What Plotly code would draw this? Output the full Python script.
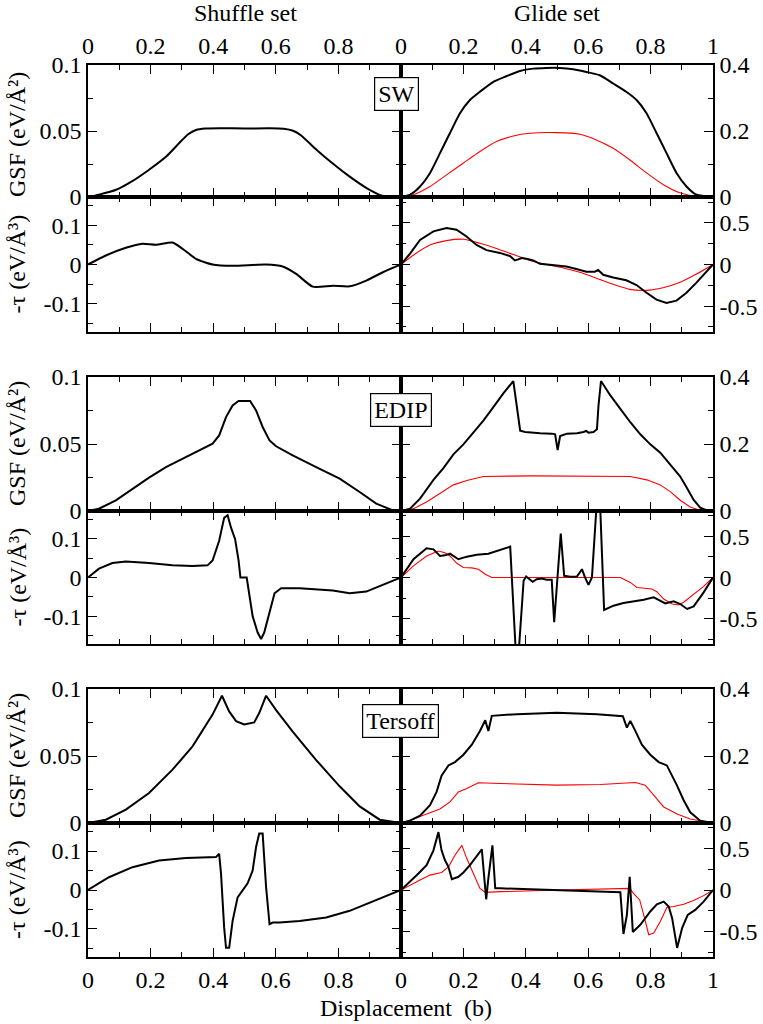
import plotly.graph_objects as go

# ---------------- data ----------------
# Shuffle set (left column)
sw_sh_gsf_x = [0, 0.035, 0.09, 0.14, 0.195, 0.25, 0.29, 0.32, 0.345, 0.375, 0.42, 0.5, 0.58, 0.625, 0.655, 0.68, 0.73, 0.78, 0.835, 0.89, 0.94, 1.0]
sw_sh_gsf_y = [0, 0.0018, 0.0055, 0.0118, 0.0207, 0.0307, 0.0405, 0.0475, 0.0508, 0.0519, 0.0521, 0.0519, 0.0521, 0.0517, 0.0502, 0.0468, 0.0358, 0.0257, 0.0156, 0.0068, 0.001, 0]
sw_sh_tau_x = [0, 0.057, 0.121, 0.174, 0.217, 0.270, 0.302, 0.345, 0.398, 0.462, 0.569, 0.622, 0.665, 0.718, 0.782, 0.836, 0.889, 0.942, 1.0]
sw_sh_tau_y = [0, 0.023, 0.0427, 0.053, 0.0504, 0.056, 0.0402, 0.0145, 0, -0.0034, 0, -0.0051, -0.0239, -0.0564, -0.0539, -0.0556, -0.041, -0.0197, 0]

edip_sh_gsf_x = [0, 0.035, 0.089, 0.142, 0.195, 0.249, 0.302, 0.355, 0.398, 0.419, 0.441, 0.462, 0.481, 0.518, 0.537, 0.558, 0.580, 0.601, 0.654, 0.729, 0.804, 0.868, 0.921, 0.974, 1.0]
edip_sh_gsf_y = [0, 0.0017, 0.0080, 0.0167, 0.0249, 0.0328, 0.0391, 0.0453, 0.0502, 0.0564, 0.0701, 0.0788, 0.0821, 0.0821, 0.0751, 0.0627, 0.0527, 0.0483, 0.0415, 0.0328, 0.0241, 0.0142, 0.0055, 0.0005, 0]
edip_sh_tau_x = [0, 0.035, 0.078, 0.121, 0.195, 0.270, 0.334, 0.382, 0.398, 0.419, 0.435, 0.446, 0.457, 0.470, 0.481, 0.487, 0.507, 0.515, 0.526, 0.542, 0.553, 0.563, 0.580, 0.596, 0.617, 0.676, 0.782, 0.836, 0.889, 0.942, 1.0]
edip_sh_tau_y = [0, 0.0229, 0.0373, 0.0415, 0.0373, 0.0314, 0.0297, 0.0314, 0.0441, 0.0949, 0.1542, 0.161, 0.1288, 0.0992, 0.0441, 0, 0, -0.0407, -0.1, -0.1424, -0.159, -0.1424, -0.0915, -0.0407, -0.028, -0.028, -0.0339, -0.0407, -0.0364, -0.0195, 0]

ters_sh_gsf_x = [0, 0.057, 0.121, 0.195, 0.270, 0.334, 0.398, 0.428, 0.451, 0.473, 0.499, 0.531, 0.547, 0.569, 0.601, 0.654, 0.729, 0.804, 0.868, 0.932, 1.0]
ters_sh_gsf_y = [0, 0.0025, 0.0100, 0.0224, 0.0398, 0.0572, 0.0809, 0.0950, 0.0833, 0.0761, 0.0736, 0.0751, 0.0821, 0.0950, 0.0843, 0.0682, 0.0470, 0.0274, 0.0124, 0.0025, 0]
ters_sh_tau_x = [0, 0.067, 0.142, 0.227, 0.313, 0.409, 0.419, 0.425, 0.435, 0.441, 0.451, 0.462, 0.478, 0.494, 0.510, 0.526, 0.537, 0.547, 0.558, 0.569, 0.580, 0.590, 0.612, 0.676, 0.761, 0.836, 0.889, 0.942, 1.0]
ters_sh_tau_y = [0, 0.0328, 0.0586, 0.0759, 0.0819, 0.0845, 0.0931, 0.0414, -0.0966, -0.1483, -0.1483, -0.0793, -0.019, -0.0017, 0.0172, 0.05, 0.1103, 0.1448, 0.1448, 0.0069, -0.0879, -0.0836, -0.0836, -0.0793, -0.0707, -0.0534, -0.0362, -0.019, 0]

# Glide set (right column) - black and red series
sw_gl_gsf_x = [0, 0.029, 0.061, 0.093, 0.125, 0.157, 0.189, 0.221, 0.253, 0.296, 0.338, 0.381, 0.424, 0.466, 0.509, 0.552, 0.594, 0.637, 0.680, 0.722, 0.755, 0.787, 0.819, 0.851, 0.883, 0.915, 0.947, 1.0]
sw_gl_gsf_y = [0, 0.007, 0.032, 0.073, 0.133, 0.194, 0.254, 0.294, 0.319, 0.349, 0.366, 0.382, 0.389, 0.391, 0.391, 0.387, 0.379, 0.369, 0.344, 0.319, 0.294, 0.254, 0.194, 0.133, 0.073, 0.032, 0.007, 0]
sw_gl_gsf_red_x = [0, 0.039, 0.093, 0.146, 0.200, 0.253, 0.306, 0.360, 0.413, 0.498, 0.573, 0.626, 0.680, 0.733, 0.787, 0.840, 0.893, 0.947, 1.0]
sw_gl_gsf_red_y = [0, 0.007, 0.032, 0.067, 0.103, 0.138, 0.168, 0.185, 0.193, 0.195, 0.190, 0.173, 0.148, 0.113, 0.073, 0.038, 0.013, 0.002, 0]
sw_gl_tau_x = [0, 0.029, 0.061, 0.104, 0.146, 0.178, 0.210, 0.242, 0.274, 0.317, 0.349, 0.365, 0.376, 0.386, 0.402, 0.424, 0.445, 0.488, 0.530, 0.562, 0.594, 0.621, 0.632, 0.648, 0.680, 0.722, 0.755, 0.787, 0.819, 0.851, 0.883, 0.915, 0.947, 1.0]
sw_gl_tau_y = [0, 0.131, 0.295, 0.398, 0.439, 0.418, 0.336, 0.234, 0.172, 0.139, 0.102, 0.049, 0.061, 0.078, 0.070, 0.049, 0.008, -0.012, -0.025, -0.053, -0.086, -0.086, -0.066, -0.123, -0.156, -0.189, -0.246, -0.340, -0.422, -0.463, -0.434, -0.340, -0.217, 0]
sw_gl_tau_red_x = [0, 0.039, 0.093, 0.146, 0.200, 0.253, 0.306, 0.360, 0.413, 0.466, 0.520, 0.573, 0.626, 0.680, 0.733, 0.787, 0.840, 0.893, 0.947, 1.0]
sw_gl_tau_red_y = [0, 0.111, 0.234, 0.287, 0.303, 0.254, 0.193, 0.119, 0.049, 0, -0.041, -0.094, -0.164, -0.238, -0.299, -0.311, -0.279, -0.217, -0.115, 0]

edip_gl_gsf_x = [0, 0.029, 0.061, 0.104, 0.136, 0.168, 0.200, 0.232, 0.264, 0.296, 0.328, 0.360, 0.382, 0.398, 0.419, 0.446, 0.483, 0.494, 0.502, 0.510, 0.532, 0.564, 0.585, 0.593, 0.601, 0.617, 0.628, 0.633, 0.641, 0.671, 0.703, 0.735, 0.767, 0.799, 0.831, 0.863, 0.895, 0.917, 0.938, 0.959, 0.981, 1.0]
edip_gl_gsf_y = [0, 0.007, 0.037, 0.093, 0.128, 0.169, 0.199, 0.234, 0.270, 0.310, 0.351, 0.388, 0.240, 0.236, 0.234, 0.232, 0.231, 0.229, 0.182, 0.224, 0.231, 0.232, 0.236, 0.239, 0.234, 0.236, 0.244, 0.315, 0.388, 0.345, 0.305, 0.265, 0.229, 0.199, 0.174, 0.139, 0.103, 0.068, 0.033, 0.010, 0.002, 0]
edip_gl_gsf_red_x = [0, 0.040, 0.082, 0.125, 0.168, 0.211, 0.264, 0.425, 0.639, 0.735, 0.788, 0.831, 0.863, 0.895, 0.927, 0.959, 1.0]
edip_gl_gsf_red_y = [0, 0.007, 0.027, 0.053, 0.078, 0.091, 0.103, 0.105, 0.105, 0.103, 0.093, 0.078, 0.058, 0.032, 0.012, 0.002, 0]
edip_gl_tau_x = [0, 0.040, 0.082, 0.104, 0.125, 0.141, 0.157, 0.184, 0.211, 0.243, 0.280, 0.318, 0.350, 0.372, 0.393, 0.401, 0.422, 0.435, 0.451, 0.467, 0.483, 0.491, 0.502, 0.512, 0.523, 0.542, 0.564, 0.580, 0.590, 0.601, 0.612, 0.634, 0.651, 0.681, 0.713, 0.745, 0.778, 0.810, 0.826, 0.847, 0.874, 0.895, 0.917, 0.938, 0.970, 1.0]
edip_gl_tau_y = [0, 0.222, 0.355, 0.343, 0.262, 0.270, 0.290, 0.222, 0.254, 0.278, 0.290, 0.331, 0.375, -1.2, -0.04, 0.012, -0.052, -0.020, -0.012, -0.028, -0.028, -0.544, 0, 0.536, 0.020, 0.008, 0.012, 0.101, 0, -0.089, 0, 1.3, -0.395, -0.343, -0.310, -0.294, -0.270, -0.242, -0.270, -0.315, -0.290, -0.323, -0.383, -0.351, -0.181, 0]
edip_gl_tau_red_x = [0, 0.040, 0.082, 0.120, 0.141, 0.157, 0.179, 0.200, 0.227, 0.248, 0.270, 0.291, 0.703, 0.735, 0.756, 0.778, 0.804, 0.820, 0.842, 0.869, 0.890, 0.906, 0.938, 0.970, 1.0]
edip_gl_tau_red_y = [0, 0.141, 0.262, 0.323, 0.302, 0.262, 0.173, 0.121, 0.117, 0.101, 0.040, 0, 0, -0.060, -0.121, -0.133, -0.141, -0.173, -0.262, -0.323, -0.335, -0.302, -0.202, -0.109, 0]

ters_gl_gsf_x = [0, 0.029, 0.061, 0.093, 0.114, 0.130, 0.152, 0.173, 0.200, 0.227, 0.253, 0.270, 0.280, 0.291, 0.371, 0.499, 0.628, 0.711, 0.724, 0.735, 0.751, 0.772, 0.799, 0.826, 0.852, 0.868, 0.884, 0.906, 0.927, 0.959, 1.0]
ters_gl_gsf_y = [0, 0.007, 0.022, 0.053, 0.093, 0.141, 0.172, 0.182, 0.204, 0.234, 0.275, 0.307, 0.275, 0.320, 0.325, 0.329, 0.325, 0.319, 0.285, 0.305, 0.275, 0.234, 0.204, 0.182, 0.172, 0.143, 0.113, 0.068, 0.032, 0.007, 0]
ters_gl_gsf_red_x = [0, 0.040, 0.082, 0.125, 0.157, 0.184, 0.211, 0.248, 0.318, 0.499, 0.639, 0.751, 0.783, 0.810, 0.842, 0.885, 0.927, 1.0]
ters_gl_gsf_red_y = [0, 0.012, 0.027, 0.042, 0.063, 0.093, 0.103, 0.120, 0.118, 0.113, 0.115, 0.121, 0.113, 0.083, 0.048, 0.027, 0.012, 0]
ters_gl_tau_x = [0, 0.029, 0.056, 0.082, 0.104, 0.120, 0.130, 0.141, 0.152, 0.163, 0.184, 0.200, 0.221, 0.259, 0.264, 0.273, 0.280, 0.293, 0.302, 0.318, 0.703, 0.713, 0.724, 0.733, 0.743, 0.767, 0.799, 0.820, 0.842, 0.858, 0.869, 0.885, 0.901, 0.919, 0.943, 0.970, 1.0]
ters_gl_tau_y = [0, 0.100, 0.200, 0.300, 0.480, 0.700, 0.480, 0.360, 0.280, 0.132, 0.160, 0.212, 0.300, 0.492, 0.260, -0.112, 0.140, 0.540, 0.020, 0.020, -0.028, -0.532, -0.300, 0.160, -0.508, -0.420, -0.260, -0.172, -0.140, -0.200, -0.340, -0.700, -0.460, -0.300, -0.240, -0.140, 0]
ters_gl_tau_red_x = [0, 0.029, 0.061, 0.093, 0.130, 0.152, 0.173, 0.195, 0.211, 0.232, 0.253, 0.270, 0.318, 0.510, 0.681, 0.733, 0.745, 0.765, 0.778, 0.794, 0.810, 0.831, 0.852, 0.874, 0.906, 0.938, 0.970, 1.0]
ters_gl_tau_red_y = [0, 0.060, 0.120, 0.180, 0.212, 0.280, 0.420, 0.540, 0.380, 0.200, 0.020, -0.028, -0.020, 0, 0.012, 0.020, -0.040, -0.120, -0.300, -0.540, -0.520, -0.380, -0.212, -0.200, -0.172, -0.128, -0.068, 0]

panel_labels = ["SW", "EDIP", "Tersoff"]
column_titles = ["Shuffle set", "Glide set"]
x_ticks = [0, 0.2, 0.4, 0.6, 0.8, 1.0]
x_ticktext_left = ["0", "0.2", "0.4", "0.6", "0.8", ""]
x_ticktext_right = ["0", "0.2", "0.4", "0.6", "0.8", "1"]

# ---------------- layout helpers ----------------
FONT = "Liberation Serif, Times New Roman, serif"
FS = 24
W, H = 763, 1024
ML, MR, MT, MB = 88, 50, 65, 67

col_dom = [[0, 0.5008], [0.5008, 1.0]]
row_dom = [[0.852, 1.0], [0.7007, 0.852], [0.5, 0.6502], [0.3509, 0.5], [0.1502, 0.3004], [0, 0.1502]]

fig = go.Figure()

# (row, col, [(x, y, color, width, shape), ...])
panels = [
    (0, 0, [(sw_sh_gsf_x, sw_sh_gsf_y, "black", 2, "spline")]),
    (0, 1, [(sw_gl_gsf_red_x, sw_gl_gsf_red_y, "red", 1.1, "spline"), (sw_gl_gsf_x, sw_gl_gsf_y, "black", 2, "spline")]),
    (1, 0, [(sw_sh_tau_x, sw_sh_tau_y, "black", 2, "spline")]),
    (1, 1, [(sw_gl_tau_red_x, sw_gl_tau_red_y, "red", 1.1, "spline"), (sw_gl_tau_x, sw_gl_tau_y, "black", 2, "linear")]),
    (2, 0, [(edip_sh_gsf_x, edip_sh_gsf_y, "black", 2, "linear")]),
    (2, 1, [(edip_gl_gsf_red_x, edip_gl_gsf_red_y, "red", 1.1, "linear"), (edip_gl_gsf_x, edip_gl_gsf_y, "black", 2, "linear")]),
    (3, 0, [(edip_sh_tau_x, edip_sh_tau_y, "black", 2, "linear")]),
    (3, 1, [(edip_gl_tau_red_x, edip_gl_tau_red_y, "red", 1.1, "linear"), (edip_gl_tau_x, edip_gl_tau_y, "black", 2, "linear")]),
    (4, 0, [(ters_sh_gsf_x, ters_sh_gsf_y, "black", 2, "linear")]),
    (4, 1, [(ters_gl_gsf_red_x, ters_gl_gsf_red_y, "red", 1.1, "linear"), (ters_gl_gsf_x, ters_gl_gsf_y, "black", 2, "linear")]),
    (5, 0, [(ters_sh_tau_x, ters_sh_tau_y, "black", 2, "linear")]),
    (5, 1, [(ters_gl_tau_red_x, ters_gl_tau_red_y, "red", 1.1, "linear"), (ters_gl_tau_x, ters_gl_tau_y, "black", 2, "linear")]),
]

for r, c, series in panels:
    k = r * 2 + c + 1
    for xs, ys, color, w, shape in series:
        fig.add_trace(go.Scatter(x=xs, y=ys, mode="lines", xaxis=f"x{k}", yaxis=f"y{k}",
                                 line=dict(color=color, width=w, shape=shape, smoothing=0.6),
                                 showlegend=False, hoverinfo="skip"))

common = dict(showline=True, linecolor="black", linewidth=1.6, mirror="allticks",
              ticks="inside", ticklen=9, tickwidth=1.4, tickcolor="black",
              showgrid=False, zeroline=False, automargin=False,
              tickfont=dict(family=FONT, size=FS, color="black"))

layout = {}
for r in range(6):
    for c in range(2):
        k = r * 2 + c + 1
        xa = dict(common, domain=col_dom[c], range=[0, 1], anchor=f"y{k}",
                  tickmode="array", tickvals=x_ticks,
                  ticktext=x_ticktext_left if c == 0 else x_ticktext_right,
                  minor=dict(tickvals=[0.1, 0.3, 0.5, 0.7, 0.9], ticks="inside", ticklen=5,
                             tickwidth=1.4, tickcolor="black"))
        if r == 0:
            xa.update(side="top", showticklabels=True)
        elif r == 5:
            xa.update(side="bottom", showticklabels=True)
        else:
            xa.update(showticklabels=False)
        is_gsf = (r % 2 == 0)
        if c == 0:
            if is_gsf:
                yr, tv, tt, mv = [0, 0.1], [0, 0.05, 0.1], ["0", "0.05", "0.1"], [0.025, 0.075]
            else:
                yr, tv, tt, mv = [-0.172, 0.172], [-0.1, 0, 0.1], ["-0.1", "0", "0.1"], [-0.15, -0.05, 0.05, 0.15]
        else:
            if is_gsf:
                yr, tv, tt, mv = [0, 0.4], [0, 0.2, 0.4], ["0", "0.2", "0.4"], [0.1, 0.3]
            else:
                yr, tv, tt, mv = [-0.81, 0.81], [-0.5, 0, 0.5], ["-0.5", "0", "0.5"], [-0.75, -0.25, 0.25, 0.75]
        ya = dict(common, domain=row_dom[r], range=yr, anchor=f"x{k}",
                  side="left" if c == 0 else "right",
                  tickmode="array", tickvals=tv, ticktext=tt,
                  minor=dict(tickvals=mv, ticks="inside", ticklen=5, tickwidth=1.4, tickcolor="black"))
        xname = "xaxis" if k == 1 else f"xaxis{k}"
        yname = "yaxis" if k == 1 else f"yaxis{k}"
        layout[xname] = xa
        layout[yname] = ya

fig.update_layout(**layout)

def px_x(px):
    return (px - ML) / (W - ML - MR)

def px_y(py):
    return (H - MB - py) / (H - MT - MB)

ann = []
# column titles
ann.append(dict(text=column_titles[0], x=px_x(245), y=px_y(13)))
ann.append(dict(text=column_titles[1], x=px_x(557), y=px_y(13)))
# y titles
row_centers = [135, 264.5, 444, 577.5, 756, 890]
for i, yc in enumerate(row_centers):
    txt = "GSF (eV/Å²)" if i % 2 == 0 else "-τ (eV/Å³)"
    ann.append(dict(text=txt, x=px_x(17), y=px_y(yc), textangle=-90))
# x title
ann.append(dict(text="Displacement  (b)", x=px_x(406), y=px_y(1008)))
# panel label boxes
box_pos = [(396, 94.5), (400.5, 410), (400.5, 720.5)]
for lab, (bx, by) in zip(panel_labels, box_pos):
    ann.append(dict(text=lab, x=px_x(bx), y=px_y(by), bordercolor="black", borderwidth=1.2,
                    borderpad=3, bgcolor="white"))

annotations = []
for a in ann:
    base = dict(xref="paper", yref="paper", xanchor="center", yanchor="middle", showarrow=False,
                font=dict(family=FONT, size=FS, color="black"))
    base.update(a)
    annotations.append(base)

fig.update_layout(width=W, height=H, margin=dict(l=ML, r=MR, t=MT, b=MB, autoexpand=False),
                  paper_bgcolor="white", plot_bgcolor="white",
                  annotations=annotations, showlegend=False,
                  font=dict(family=FONT, size=FS, color="black"))

fig.write_html("out.html", config={"displayModeBar": False},
               post_script="document.body.style.margin='0';document.body.style.overflow='hidden';")
